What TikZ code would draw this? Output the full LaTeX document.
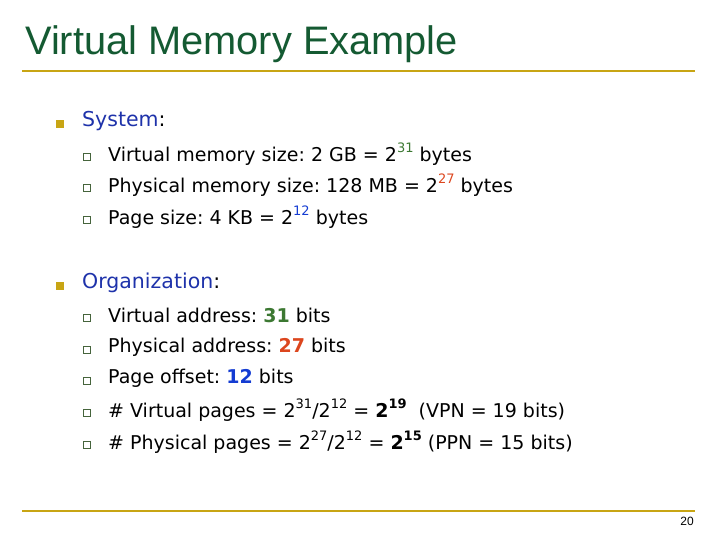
\documentclass[tikz,border=0pt]{standalone}
\usepackage{fontspec}
\setmainfont{DejaVu Sans}
\newfontfamily\titlefont{Liberation Sans}
\definecolor{titlegreen}{RGB}{20,90,50}
\definecolor{gold}{RGB}{200,165,20}
\definecolor{blu}{RGB}{30,50,170}
\definecolor{grn}{RGB}{60,120,50}
\definecolor{rd}{RGB}{220,70,30}
\definecolor{bblue}{RGB}{20,60,210}
\definecolor{subb}{RGB}{70,100,60}
\newcommand{\myexp}[1]{\raisebox{0.45em}{\fontsize{13}{14}\selectfont #1}}
\frenchspacing
\begin{document}
\begin{tikzpicture}[x=1pt,y=-1pt,
  main/.style={anchor=west,inner sep=0pt,font=\fontsize{20.5}{24}\selectfont},
  sub/.style={anchor=west,inner sep=0pt,font=\fontsize{19}{23}\selectfont},
  bul/.style={fill=gold,minimum size=8.5pt,inner sep=0pt},
  sbul/.style={draw=subb,line width=0.9pt,minimum size=7pt,inner sep=0pt},
  rule/.style={draw=gold,line width=2.5pt}]
\useasboundingbox (0,0) rectangle (720,540);
\node[anchor=base west,inner sep=0pt,text=titlegreen,font=\titlefont\fontsize{39.8}{44}\selectfont] (title) at (25,55) {Virtual Memory Example};
\coordinate (t1) at (22,71); \coordinate (t2) at (695,71);
\draw[rule] (t1) -- (t2);
\coordinate (b1) at (22,511); \coordinate (b2) at (695,511);
\draw[rule] (b1) -- (b2);
\node[anchor=east,inner sep=0pt,font=\titlefont\fontsize{12}{14}\selectfont] (pn) at (694,521) {20};

\node[bul] (m1) at (60,124) {};
\node[main] (sys) at (82,121) {\textcolor{blu}{System}:};
\node[sbul] (s1) at (87,157) {};
\node[sub] (t1a) at (108,154) {Virtual memory size: 2 GB = 2\myexp{\textcolor{grn}{31}} bytes};
\node[sbul] (s2) at (87,188) {};
\node[sub] (t2a) at (108,185) {Physical memory size: 128 MB = 2\myexp{\textcolor{rd}{27}} bytes};
\node[sbul] (s3) at (87,220) {};
\node[sub] (t3a) at (108,217) {Page size: 4 KB = 2\myexp{\textcolor{bblue}{12}} bytes};

\node[bul] (m2) at (60,286) {};
\node[main] (org) at (82,283) {\textcolor{blu}{Organization}:};
\node[sbul] (o1) at (87,318) {};
\node[sub] (u1) at (108,315) {Virtual address: \textbf{\textcolor{grn}{31}} bits};
\node[sbul] (o2) at (87,350) {};
\node[sub] (u2) at (108,347) {Physical address: \textbf{\textcolor{rd}{27}} bits};
\node[sbul] (o3) at (87,381) {};
\node[sub] (u3) at (108,378) {Page offset: \textbf{\textcolor{bblue}{12}} bits};
\node[sbul] (o4) at (87,413) {};
\node[sub] (u4) at (108,410) {\# Virtual pages = 2\myexp{31}/2\myexp{12} = \textbf{2\myexp{19}}\ \ (VPN = 19 bits)};
\node[sbul] (o5) at (87,445) {};
\node[sub] (u5) at (108,442) {\# Physical pages = 2\myexp{27}/2\myexp{12} = \textbf{2\myexp{15}} (PPN = 15 bits)};
\end{tikzpicture}
\end{document}
